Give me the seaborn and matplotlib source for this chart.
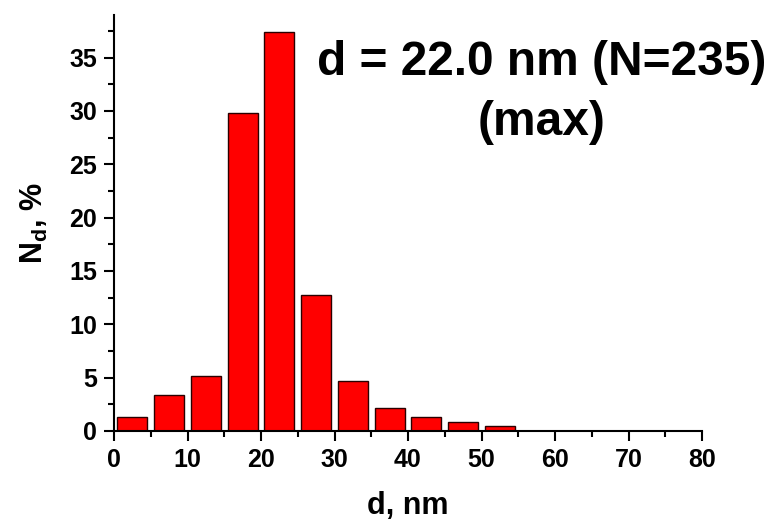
import matplotlib
matplotlib.use("Agg")
import matplotlib.pyplot as plt
from matplotlib.ticker import MultipleLocator
import seaborn as sns
import numpy as np
import pandas as pd

# Data: size-distribution histogram (bin centres in nm, share in %)
bin_centers = [2.5, 7.5, 12.5, 17.5, 22.5, 27.5, 32.5, 37.5, 42.5, 47.5, 52.5]
percent = [1.28, 3.40, 5.11, 29.79, 37.45, 12.77, 4.68, 2.13, 1.28, 0.85, 0.43]
x_ticks = [0, 10, 20, 30, 40, 50, 60, 70, 80]
y_ticks = [0, 5, 10, 15, 20, 25, 30, 35]
annotation_line1 = "d = 22.0 nm (N=235)"
annotation_line2 = "(max)"

df = pd.DataFrame({"d": bin_centers, "pct": percent})

sns.set_style("white")
plt.rcParams["font.family"] = ["Liberation Sans", "DejaVu Sans"]
plt.rcParams["font.weight"] = "bold"
plt.rcParams["mathtext.default"] = "regular"
plt.rcParams["text.color"] = "black"
plt.rcParams["axes.labelcolor"] = "black"
plt.rcParams["xtick.color"] = "black"
plt.rcParams["ytick.color"] = "black"

fig = plt.figure(figsize=(7.73, 5.25), dpi=100)
ax = fig.add_axes([114 / 773, 1 - 431 / 525, (702 - 114) / 773, (431 - 15) / 525])

sns.histplot(data=df, x="d", weights="pct", binwidth=5, binrange=(0, 55),
             shrink=0.82, color="#ff0000", alpha=1.0, edgecolor="#2a0000",
             linewidth=1.0, ax=ax)

ax.set_xlim(0, 80)
ax.set_ylim(0, 39)
ax.set_xticks(x_ticks)
ax.set_yticks(y_ticks)
ax.xaxis.set_minor_locator(MultipleLocator(5))
ax.yaxis.set_minor_locator(MultipleLocator(2.5))

for s in ["top", "right"]:
    ax.spines[s].set_visible(False)
for s in ["left", "bottom"]:
    ax.spines[s].set_linewidth(1.5)
    ax.spines[s].set_color("black")

ax.tick_params(axis="both", which="major", direction="out", length=7, width=1.5,
               labelsize=18, pad=5, color="black", labelcolor="black",
               bottom=True, left=True)
ax.tick_params(axis="both", which="minor", direction="out", length=4, width=1.5,
               color="black", bottom=True, left=True)
for lab in ax.get_xticklabels() + ax.get_yticklabels():
    lab.set_fontweight("bold")

ax.set_xlabel("d, nm", fontsize=22, fontweight="bold", labelpad=14, color="black")
ax.set_ylabel(r"N$_{d}$, %", fontsize=22, fontweight="bold", labelpad=14, color="black")

ax.text(0.7267, 0.856, annotation_line1, transform=ax.transAxes, ha="center",
        va="baseline", fontsize=34.5, fontweight="bold", color="black", clip_on=False)
ax.text(0.7267, 0.7115, annotation_line2, transform=ax.transAxes, ha="center",
        va="baseline", fontsize=34.5, fontweight="bold", color="black", clip_on=False)

ax.grid(False)
fig.savefig("out.png", dpi=100)
